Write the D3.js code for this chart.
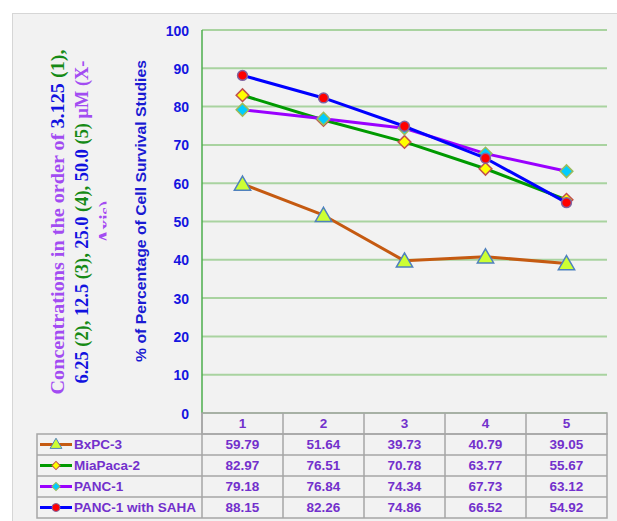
<!DOCTYPE html>
<html>
<head>
<meta charset="utf-8">
<script src="https://cdn.jsdelivr.net/npm/d3@7"></script>
<style>
  html, body { margin: 0; padding: 0; background: #ffffff; }
  svg { display: block; }
</style>
</head>
<body>
<svg id="chart" width="617" height="521"></svg>
<script>
// Concentration steps along the x axis
const categories = ["1", "2", "3", "4", "5"];

// Cell survival (%) per cell line
const bxpc3      = [59.79, 51.64, 39.73, 40.79, 39.05];
const miaPaca2   = [82.97, 76.51, 70.78, 63.77, 55.67];
const panc1      = [79.18, 76.84, 74.34, 67.73, 63.12];
const panc1Saha  = [88.15, 82.26, 74.86, 66.52, 54.92];

const seriesNames = ["BxPC-3", "MiaPaca-2", "PANC-1", "PANC-1 with SAHA"];
const yTicks = [0, 10, 20, 30, 40, 50, 60, 70, 80, 90, 100];

const series = [
  { name: seriesNames[0], values: bxpc3,     line: "#c55a11", marker: "triangle", fill: "#ccff33", stroke: "#4f81bd" },
  { name: seriesNames[1], values: miaPaca2,  line: "#009a00", marker: "diamond",  fill: "#ffff00", stroke: "#c0504d" },
  { name: seriesNames[2], values: panc1,     line: "#9a00ff", marker: "diamond",  fill: "#00ccff", stroke: "#9bbb59" },
  { name: seriesNames[3], values: panc1Saha, line: "#0000ff", marker: "circle",   fill: "#ff0000", stroke: "#8064a2" }
];

const svg = d3.select("#chart");

// Layout
const plot = { left: 202, right: 607, top: 30, bottom: 413 };
const table = { left: 37, rowH: 21, headerTop: 413 };
const textPurple = "#7230cc";
const gridGreen = "#a9d3a0";
const borderGray = "#a6a6a6";

// Outer panel
svg.append("rect")
  .attr("x", 12.5).attr("y", 13.5)
  .attr("width", 640).attr("height", 540)
  .attr("fill", "#f2f2f2").attr("stroke", "#d6d6d6");

const x = d3.scaleBand().domain(categories).range([plot.left, plot.right]);
const y = d3.scaleLinear().domain([0, 100]).range([plot.bottom, plot.top]);
const cx = c => x(c) + x.bandwidth() / 2;

// Horizontal gridlines
svg.append("g")
  .selectAll("line")
  .data(yTicks)
  .join("line")
  .attr("x1", plot.left).attr("x2", plot.right)
  .attr("y1", d => y(d)).attr("y2", d => y(d))
  .attr("stroke", gridGreen).attr("stroke-width", 2);

// Y axis (labels only, the axis rule is drawn separately in green)
const yAxis = d3.axisLeft(y).tickValues(yTicks).tickSize(0).tickPadding(0);
const yg = svg.append("g")
  .attr("transform", `translate(${plot.left - 13},0)`)
  .call(yAxis);
yg.select(".domain").remove();
yg.selectAll("text")
  .attr("fill", "#1515e0")
  .attr("font-family", "'Liberation Sans', Arial, sans-serif")
  .attr("font-weight", "bold")
  .attr("font-size", 14)
  .attr("dy", "0.36em");

svg.append("line")
  .attr("x1", plot.left).attr("x2", plot.left)
  .attr("y1", plot.top).attr("y2", plot.bottom)
  .attr("stroke", "#4cae4c").attr("stroke-width", 1.5);

// Y axis title
svg.append("text")
  .attr("transform", `translate(146,211) rotate(-90)`)
  .attr("text-anchor", "middle")
  .attr("font-family", "'Liberation Sans', Arial, sans-serif")
  .attr("font-weight", "bold")
  .attr("font-size", 14)
  .attr("textLength", 302)
  .attr("lengthAdjust", "spacingAndGlyphs")
  .attr("fill", "#1a1ad2")
  .text("% of Percentage of Cell Survival Studies");

// Multi-coloured concentration caption (clipped on its right edge)
const cPurple = "#a24cf2", cBlue = "#1212e0", cGreen = "#168a16";
const captionLines = [
  { x: 64, len: 345, parts: [
    ["Concentrations in the order of ", cPurple], ["3.125", cBlue], [" (1),", cGreen]
  ]},
  { x: 88, len: 323, parts: [
    ["6.25", cBlue], [" (2),", cGreen], [" 12.5", cBlue], [" (3),", cGreen],
    [" 25.0", cBlue], [" (4),", cGreen], [" 50.0", cBlue], [" (5)", cGreen], [" μM (X-", cPurple]
  ]},
  { x: 112, len: 43, parts: [["Axis)", cPurple]] }
];
svg.append("clipPath").attr("id", "captionClip")
  .append("rect").attr("x", 20).attr("y", 20).attr("width", 86.5).attr("height", 400);
const capG = svg.append("g").attr("clip-path", "url(#captionClip)");
captionLines.forEach(l => {
  const t = capG.append("text")
    .attr("transform", `translate(${l.x},222) rotate(-90)`)
    .attr("text-anchor", "middle")
    .attr("font-family", "'Liberation Serif', 'Times New Roman', serif")
    .attr("font-weight", "bold")
    .attr("font-size", 19)
    .attr("textLength", l.len)
    .attr("lengthAdjust", "spacingAndGlyphs");
  l.parts.forEach(([s, c]) => t.append("tspan").attr("fill", c).text(s));
});

// Marker shapes
function markerPath(type, size) {
  if (type === "triangle") return d3.symbol(d3.symbolTriangle, size)();
  if (type === "diamond") return d3.symbol(d3.symbolSquare, size)();
  return d3.symbol(d3.symbolCircle, size)();
}

const line = d3.line().x((d, i) => cx(categories[i])).y(d => y(d));

series.forEach(s => {
  const g = svg.append("g");
  g.append("path")
    .attr("d", line(s.values))
    .attr("fill", "none")
    .attr("stroke", s.line)
    .attr("stroke-width", 3)
    .attr("stroke-linejoin", "round");
  const size = s.marker === "triangle" ? 115 : s.marker === "diamond" ? 80 : 76;
  g.selectAll("path.m")
    .data(s.values)
    .join("path")
    .attr("class", "m")
    .attr("d", markerPath(s.marker, size))
    .attr("transform", (d, i) => {
      const dy = s.marker === "triangle" ? 1.5 : 0;
      const rot = s.marker === "diamond" ? " rotate(45)" : "";
      return `translate(${cx(categories[i])},${y(d) + dy})${rot}`;
    })
    .attr("fill", s.fill)
    .attr("stroke", s.stroke)
    .attr("stroke-width", 1.5);
});

// Data table below the plot
const rowsTop = table.headerTop + table.rowH;
const tableBottom = rowsTop + table.rowH * series.length;
const tg = svg.append("g");

// header cells
tg.append("rect")
  .attr("x", plot.left).attr("y", table.headerTop)
  .attr("width", plot.right - plot.left).attr("height", table.rowH)
  .attr("fill", "none").attr("stroke", borderGray).attr("stroke-width", 1.5);
// body frame
tg.append("rect")
  .attr("x", table.left).attr("y", rowsTop)
  .attr("width", plot.right - table.left).attr("height", tableBottom - rowsTop)
  .attr("fill", "none").attr("stroke", borderGray).attr("stroke-width", 1.5);
// row separators
tg.selectAll("line.row")
  .data(d3.range(1, series.length))
  .join("line")
  .attr("x1", table.left).attr("x2", plot.right)
  .attr("y1", i => rowsTop + i * table.rowH).attr("y2", i => rowsTop + i * table.rowH)
  .attr("stroke", borderGray).attr("stroke-width", 1.5);
// column separators
tg.selectAll("line.col")
  .data(categories)
  .join("line")
  .attr("x1", c => x(c)).attr("x2", c => x(c))
  .attr("y1", table.headerTop).attr("y2", tableBottom)
  .attr("stroke", borderGray).attr("stroke-width", 1.5);

const cellFont = sel => sel
  .attr("font-family", "'Liberation Sans', Arial, sans-serif")
  .attr("font-weight", "bold")
  .attr("font-size", 13.5)
  .attr("fill", textPurple);

// category header labels
tg.selectAll("text.cat")
  .data(categories)
  .join("text")
  .attr("x", c => cx(c))
  .attr("y", table.headerTop + table.rowH / 2)
  .attr("dy", "0.36em")
  .attr("text-anchor", "middle")
  .text(c => c)
  .call(cellFont);

series.forEach((s, r) => {
  const rowMid = rowsTop + r * table.rowH + table.rowH / 2;
  // legend key
  tg.append("line")
    .attr("x1", 40).attr("x2", 72)
    .attr("y1", rowMid).attr("y2", rowMid)
    .attr("stroke", s.line).attr("stroke-width", 3);
  const ksize = s.marker === "triangle" ? 60 : s.marker === "diamond" ? 34 : 50;
  tg.append("path")
    .attr("d", markerPath(s.marker, ksize))
    .attr("transform", `translate(56,${rowMid + (s.marker === "triangle" ? 0.5 : 0)})${s.marker === "diamond" ? " rotate(45)" : ""}`)
    .attr("fill", s.fill)
    .attr("stroke", s.stroke)
    .attr("stroke-width", 1);
  tg.append("text")
    .attr("x", 74).attr("y", rowMid).attr("dy", "0.36em")
    .text(s.name)
    .call(cellFont);
  // values
  tg.selectAll(null)
    .data(s.values)
    .join("text")
    .attr("x", (d, i) => cx(categories[i]))
    .attr("y", rowMid).attr("dy", "0.36em")
    .attr("text-anchor", "middle")
    .text(d => d3.format(".2f")(d))
    .call(cellFont);
});
</script>
</body>
</html>
